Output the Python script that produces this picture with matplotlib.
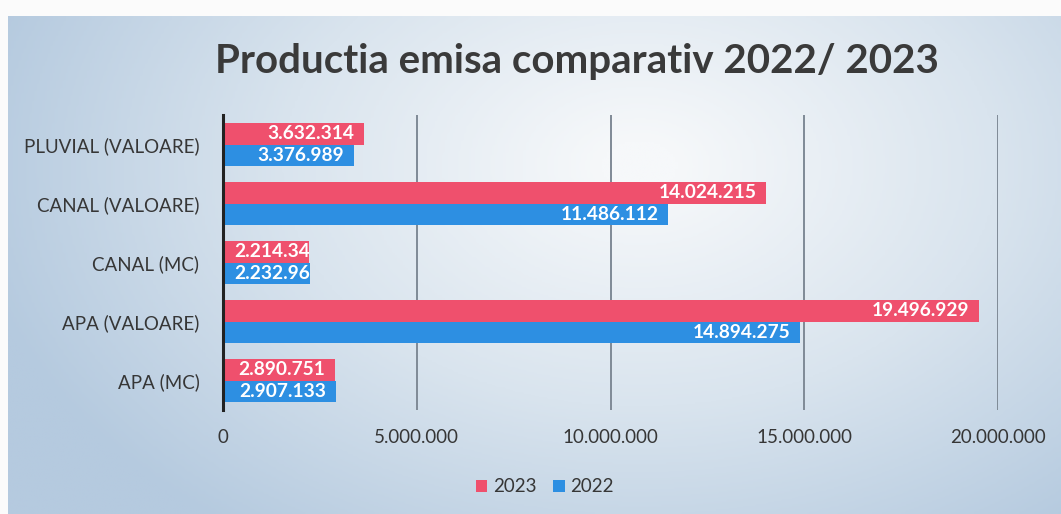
import numpy as np
import matplotlib
matplotlib.use("Agg")
import matplotlib.pyplot as plt
from matplotlib.colors import LinearSegmentedColormap

categories = ["APA (MC)", "APA (VALOARE)", "CANAL (MC)", "CANAL (VALOARE)", "PLUVIAL (VALOARE)"]
values_2023 = [2890751, 19496929, 2214340, 14024215, 3632314]
values_2022 = [2907133, 14894275, 2232960, 11486112, 3376989]
series_names = ["2023", "2022"]
xticks = [0, 5000000, 10000000, 15000000, 20000000]
title = "Productia emisa comparativ 2022/ 2023"

RED = "#ef506d"
BLUE = "#2d8fe2"
TXT = "#363636"

def fmt(v):
    return f"{v:,}".replace(",", ".")

W, H = 1061, 514
fig = plt.figure(figsize=(W / 100, H / 100), dpi=100)
fig.patch.set_facecolor("#fbfbfb")

# background gradient (scanned slide look)
bg = fig.add_axes([0.008, 0, 0.992, 1 - 16 / H], zorder=-10)
yy, xx = np.mgrid[0:1:200j, 0:1:400j]
d = np.sqrt(((xx - 0.6) / 0.7) ** 2 + ((yy - 0.3) / 1.0) ** 2)
cmap = LinearSegmentedColormap.from_list("bgc", ["#f6f8fa", "#d9e4ee", "#b5cadf"])
bg.imshow(d, cmap=cmap, aspect="auto", origin="upper", vmin=0.05, vmax=0.92,
          extent=[0, 1, 0, 1])
bg.set_axis_off()

L, R = 223 / W, 998 / W
B, T = 1 - 410 / H, 1 - 115 / H
ax = fig.add_axes([L, B, R - L, T - B])
ax.set_facecolor("none")

y = np.arange(len(categories))
h = 0.36
bars23 = ax.barh(y + h / 2, values_2023, height=h, color=RED, label=series_names[0], zorder=3)
bars22 = ax.barh(y - h / 2, values_2022, height=h, color=BLUE, label=series_names[1], zorder=3)

ax.set_xlim(0, 20000000)
ax.set_ylim(-0.5, len(categories) - 0.5)
ax.set_xticks(xticks)
ax.set_xticklabels([fmt(v) for v in xticks], fontsize=13.5, color=TXT, family="Lato")
ax.set_yticks(y)
ax.set_yticklabels(categories, fontsize=13.5, color=TXT, family="Lato")
ax.tick_params(length=0)
ax.tick_params(axis="x", pad=14)
ax.tick_params(axis="y", pad=17)
for s in ["top", "right", "bottom"]:
    ax.spines[s].set_visible(False)
ax.spines["left"].set_color("#222222")
ax.spines["left"].set_linewidth(2.2)
ax.spines["left"].set_zorder(5)
ax.xaxis.grid(True, color="#7f8a96", linewidth=1.4, zorder=1)
ax.set_axisbelow(True)

fig.canvas.draw()
renderer = fig.canvas.get_renderer()
for bars, vals in ((bars23, values_2023), (bars22, values_2022)):
    for bar, v in zip(bars, vals):
        cy = bar.get_y() + bar.get_height() / 2
        t = ax.annotate(fmt(v), xy=(v, cy), xytext=(-7, 0), textcoords="offset points",
                        ha="right", va="center", color="white", fontsize=13.8,
                        fontweight="bold", family="Lato", zorder=6)
        ext = t.get_window_extent(renderer)
        x0 = ax.transData.transform((0, cy))[0]
        if ext.x0 < x0 + 8:
            t.remove()
            t = ax.annotate(fmt(v), xy=(0, cy), xytext=(8, 0), textcoords="offset points",
                            ha="left", va="center", color="white", fontsize=13.8,
                            fontweight="bold", family="Lato", zorder=6)
            t.set_clip_path(bar)

fig.text(577 / W, 1 - 62 / H, title, ha="center", va="center", fontsize=29,
         fontweight="bold", color="#3a3a3a", family="Lato")

leg = fig.legend(handles=[bars23, bars22], labels=series_names, loc="center",
                 bbox_to_anchor=(545 / W, 1 - 487 / H), ncol=2, frameon=False,
                 handlelength=0.6, handleheight=0.6, handletextpad=0.3,
                 columnspacing=0.9, prop={"family": "Lato", "size": 13.5})
for txt in leg.get_texts():
    txt.set_color(TXT)

fig.savefig("out.png", dpi=100)
